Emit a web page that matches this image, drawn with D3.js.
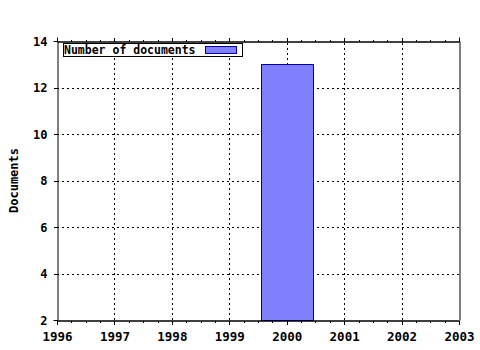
<!DOCTYPE html>
<html><head><meta charset="utf-8">
<script src="https://cdn.jsdelivr.net/npm/d3@7"></script>
<style>
html,body{margin:0;padding:0;background:#fff;}
svg{display:block;}
text{font-family:"DejaVu Sans Mono",monospace;font-weight:bold;fill:#000;}
</style></head>
<body>
<script>
const years = [2000];
const documents = [13];
const xTicks = [1996, 1997, 1998, 1999, 2000, 2001, 2002, 2003];
const yTicks = [2, 4, 6, 8, 10, 12, 14];
const seriesName = "Number of documents";
const yTitle = "Documents";

(function () {
const W = 480, H = 350;
const m = {left: 57, right: 21, top: 41, bottom: 30};
const svg = d3.select("body").append("svg").attr("width", W).attr("height", H);

const x = d3.scaleLinear().domain([1996, 2003]).range([m.left, W - m.right]);
const y = d3.scaleLinear().domain([2, 14]).range([H - m.bottom, m.top]);

const x0 = x.range()[0], x1 = x.range()[1], y0 = y.range()[0], y1 = y.range()[1];

// grid
const grid = svg.append("g").attr("stroke", "#000").attr("stroke-width", 1).attr("stroke-dasharray", "2,3");
grid.selectAll(".gx").data(xTicks.slice(1, -1)).enter().append("line")
  .attr("x1", d => Math.round(x(d)) + 0.5).attr("x2", d => Math.round(x(d)) + 0.5)
  .attr("y1", y0).attr("y2", y1);
grid.selectAll(".gy").data(yTicks.slice(1, -1)).enter().append("line")
  .attr("y1", d => Math.round(y(d)) + 0.5).attr("y2", d => Math.round(y(d)) + 0.5)
  .attr("x1", x0).attr("x2", x1);

// bars
const bw = 0.9;
svg.selectAll(".bar").data(years).enter().append("rect")
  .attr("x", d => Math.round(x(d - bw / 2)) + 0.5)
  .attr("y", (d, i) => Math.round(y(documents[i])) + 0.5)
  .attr("width", d => Math.round(x(d + bw / 2)) - Math.round(x(d - bw / 2)))
  .attr("height", (d, i) => Math.round(y0) - Math.round(y(documents[i])))
  .attr("fill", "#8080ff").attr("stroke", "#0000a8").attr("stroke-width", 1);

// axes
const minor = [];
for (let i = 0; i < xTicks.length - 1; i++) for (let k = 1; k < 4; k++) minor.push(xTicks[i] + k / 4);

const gBottom = svg.append("g").attr("transform", `translate(0,${Math.round(y0) + 0.5})`)
  .call(d3.axisBottom(x).tickValues(xTicks).tickFormat(d3.format("d")).tickSize(4).tickPadding(8));
const gBottomMinor = svg.append("g").attr("transform", `translate(0,${Math.round(y0) + 0.5})`)
  .call(d3.axisBottom(x).tickValues(minor).tickFormat("").tickSize(2));
const gTop = svg.append("g").attr("transform", `translate(0,${Math.round(y1) + 0.5})`)
  .call(d3.axisTop(x).tickValues(xTicks).tickFormat("").tickSize(4));
const gTopMinor = svg.append("g").attr("transform", `translate(0,${Math.round(y1) + 0.5})`)
  .call(d3.axisTop(x).tickValues(minor).tickFormat("").tickSize(2));
const gLeft = svg.append("g").attr("transform", `translate(${Math.round(x0) + 0.5},0)`)
  .call(d3.axisLeft(y).tickValues(yTicks).tickFormat(d3.format("d")).tickSize(4).tickPadding(6));
const gRight = svg.append("g").attr("transform", `translate(${Math.round(x1) + 0.5},0)`)
  .call(d3.axisRight(y).tickValues([]).tickSize(0));

[gBottom, gBottomMinor, gTop, gTopMinor, gLeft, gRight].forEach(g => {
  g.select(".domain").attr("stroke", "#000").attr("stroke-width", 1);
  g.selectAll(".tick line").attr("stroke", "#000").attr("shape-rendering", "crispEdges");
  g.selectAll("text").attr("font-family", "'DejaVu Sans Mono', monospace").attr("font-weight", "bold").attr("font-size", 12).attr("fill", "#000");
});
gBottom.selectAll("text").attr("font-size", 12.5);
gLeft.selectAll(".tick text").attr("dy", "0.35em");

// y title
svg.append("text").attr("transform", `translate(17.5,${(y0 + y1) / 2}) rotate(-90)`)
  .attr("text-anchor", "middle").attr("font-size", 12).text(yTitle);

// legend
const lg = svg.append("g");
lg.append("rect").attr("x", 63.5).attr("y", 43.5).attr("width", 179).attr("height", 13)
  .attr("fill", "#fff").attr("stroke", "#000");
lg.append("text").attr("x", 64).attr("y", 54).attr("font-size", 11.5).text(seriesName);
lg.append("rect").attr("x", 205.5).attr("y", 46.5).attr("width", 31).attr("height", 7)
  .attr("fill", "#8080ff").attr("stroke", "#0000a8");
})();
</script>
</body></html>
